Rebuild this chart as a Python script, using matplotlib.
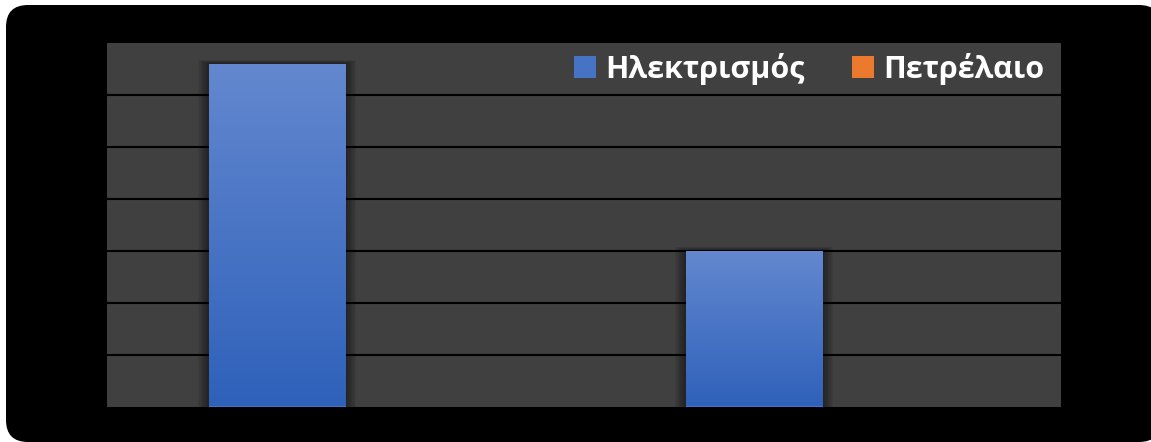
import numpy as np
import matplotlib
matplotlib.use("Agg")
import matplotlib.pyplot as plt
from matplotlib.patches import FancyBboxPatch, Rectangle
from matplotlib.colors import LinearSegmentedColormap
from matplotlib.transforms import IdentityTransform

# Data
categories = ["Κατηγορία 1", "Κατηγορία 2"]
electricity = [6.6, 3.0]
oil = [0.0, 0.0]
series_names = ["Ηλεκτρισμός", "Πετρέλαιο"]

W, H = 1151, 442
fig = plt.figure(figsize=(W / 100, H / 100), dpi=100, facecolor="white")

# Rounded black frame (pixel coordinates)
frame = FancyBboxPatch((6, 0), 1155, 437,
                       boxstyle="round,pad=0,rounding_size=22",
                       transform=IdentityTransform(), facecolor="black",
                       edgecolor="none", zorder=-10)
fig.patches.append(frame)

ax = fig.add_axes([107 / W, (H - 406.5) / H, 954 / W, 363.5 / H], zorder=1)
ax.set_facecolor("#404040")
for s in ax.spines.values():
    s.set_visible(False)

x = np.arange(len(categories))
width = 0.287

ax.set_xlim(-0.5, len(categories) - 0.5)
ax.set_ylim(0, 7)
ax.set_yticks(np.arange(1, 7))
ax.set_xticks([])
ax.tick_params(left=False, labelleft=False)
ax.yaxis.grid(True, color="black", linewidth=1.5)
ax.set_axisbelow(True)

blue_cmap = LinearSegmentedColormap.from_list("b", ["#2F61BA", "#6388CF"])
orange_cmap = LinearSegmentedColormap.from_list("o", ["#E56C1C", "#F29157"])

bars_e = ax.bar(x - width / 2, electricity, width, color="#4673C4", zorder=3)
bars_o = ax.bar(x + width / 2, oil, width, color="#EC7A2E", zorder=3)

grad = np.linspace(0, 1, 256).reshape(-1, 1)
for bars, cmap in ((bars_e, blue_cmap), (bars_o, orange_cmap)):
    for b in bars:
        h = b.get_height()
        if h <= 0:
            continue
        x0 = b.get_x()
        w = b.get_width()
        # soft shadow
        for k in range(8, 0, -1):
            pad = k * 0.0028
            ax.add_patch(Rectangle((x0 - pad, 0), w + 2 * pad, h + pad * 3.2,
                                   facecolor="black", alpha=0.06,
                                   edgecolor="none", zorder=2))
        im = ax.imshow(grad, extent=(x0, x0 + w, 0, h), origin="lower",
                       cmap=cmap, aspect="auto", zorder=4)
        im.set_clip_path(b)
ax.set_xlim(-0.5, len(categories) - 0.5)
ax.set_ylim(0, 7)

leg = ax.legend([bars_e[0], bars_o[0]], series_names, ncol=2,
                loc="upper right", bbox_to_anchor=(1044 / W, (H - 53) / H),
                bbox_transform=fig.transFigure, frameon=False,
                prop={"family": "Open Sans", "weight": "bold", "size": 22},
                handlelength=0.72, handleheight=0.72, handletextpad=0.3,
                columnspacing=1.55, borderpad=0, borderaxespad=0)
for t in leg.get_texts():
    t.set_color("white")

fig.savefig("out.png", dpi=100, facecolor="white")
